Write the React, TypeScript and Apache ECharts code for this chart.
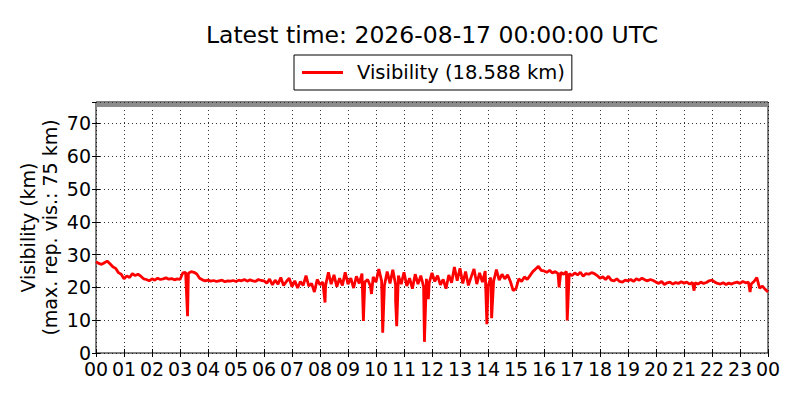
import React, { useEffect, useRef } from "react";
import * as echarts from "echarts";

// Visibility sampled every 6 minutes (0.1 h), from 00:00 to 24:00
const sampleStepHours = 0.1;
const visibility = [
  27.8, 27.3, 27.0, 27.5, 28.0, 27.2, 26.3, 25.8, 24.5, 24.0,
  22.6, 23.5, 23.0, 24.2, 23.6, 24.0, 23.4, 22.6, 22.4, 22.0,
  22.6, 22.2, 22.8, 22.4, 22.6, 22.9, 22.5, 22.7, 22.3, 22.6,
  22.4, 24.4, 24.6, 24.3, 24.8, 24.6, 24.1, 22.8, 22.3, 22.0,
  22.2, 21.9, 22.1, 21.8, 22.0, 22.2, 21.7, 22.0, 21.9, 22.1,
  21.8, 22.2, 22.0, 22.4, 21.9, 22.3, 22.0, 21.8, 22.4, 22.1,
  22.0, 21.3, 22.5, 20.8, 22.2, 21.0, 23.0, 20.6, 21.8, 22.8,
  20.2, 22.0, 19.8, 21.8, 20.6, 23.6, 20.4, 21.2, 18.6, 22.4,
  20.8, 21.6, 20.6, 24.6, 21.0, 23.8, 20.2, 22.8, 20.6, 24.6,
  21.0, 22.8, 19.8, 23.4, 21.2, 24.2, 21.6, 22.4, 20.4, 23.2,
  21.6, 25.6, 22.0, 20.6, 24.8, 21.2, 25.4, 20.8, 23.6, 21.0,
  24.6, 20.4, 22.8, 19.6, 24.0, 21.0, 23.6, 20.2, 22.6, 21.4,
  24.4, 21.8, 23.6, 20.8, 22.4, 19.6, 23.8, 21.4, 26.2, 22.0,
  25.8, 21.2, 24.8, 20.6, 23.2, 25.6, 21.0, 24.4, 21.6, 25.0,
  20.4, 23.0, 21.8, 25.4, 22.2, 24.0, 22.6, 23.8, 21.8, 19.0,
  19.6, 22.6, 21.8, 23.2, 22.4, 23.6, 24.8, 25.6, 26.4, 25.2,
  25.0, 24.6, 25.2, 24.4, 24.8, 24.2, 24.6, 24.0, 24.8, 24.2,
  23.6, 24.4, 23.8, 24.6, 23.4, 24.2, 24.0, 24.5, 24.2, 23.6,
  22.8, 23.2, 22.4, 23.4, 22.2, 22.0, 22.6, 21.8, 21.6, 22.2,
  22.0, 22.4, 21.8, 22.6, 22.2, 22.8, 22.3, 22.0, 22.4, 22.1,
  21.6, 21.2, 21.8, 20.9, 21.4, 21.6, 21.0, 21.5, 21.2, 21.7,
  21.3, 21.6, 21.0, 21.5, 21.4, 21.0, 21.6, 21.2, 21.5, 22.0,
  22.2, 21.6, 21.2, 21.0, 21.4, 20.9, 21.3, 21.0, 21.4, 21.6,
  21.2, 21.8, 21.4, 21.6, 21.0, 21.8, 23.0, 19.8, 20.4, 19.4,
  18.588,
];

// Short, sharp drops in visibility
const dipHours = [3.27, 8.18, 9.55, 9.84, 10.24, 10.7, 10.74, 11.73, 11.87, 13.96, 14.13, 16.54, 16.83, 21.36, 23.36];
const dipValues = [11.2, 15.4, 9.8, 18.0, 6.2, 16.0, 8.2, 3.4, 16.4, 8.8, 10.6, 20.0, 9.9, 19.0, 18.6];

const maxReportedVis = 75;
const yTop = 76.5;
const bandTop = 76.3;
const latestValue = "18.588";
const titleText = "Latest time: 2026-08-17 00:00:00 UTC";
const seriesName = `Visibility (${latestValue} km)`;
const yAxisName = "Visibility (km)\n(max. rep. vis.: 75 km)";

const FONT = "DejaVu Sans";

export default function App() {
  const ref = useRef<HTMLDivElement>(null);

  useEffect(() => {
    document.body.style.margin = "0";
    if (!ref.current) return;
    const chart = echarts.init(ref.current, null, { renderer: "svg" });

    const gridPoints = visibility.map((v, i) => [Math.round(i * sampleStepHours * 100) / 100, v]);
    const dips = dipHours.map((h, i) => [h, dipValues[i]]);
    const data = [...gridPoints, ...dips].sort((a, b) => a[0] - b[0]);

    const hourLabel = (v: number) => {
      const h = Math.round(v) % 24;
      return h < 10 ? "0" + h : String(h);
    };

    const gridLine = { show: true, lineStyle: { color: "#000", width: 0.8, type: [1, 3] as any } };
    const tick = { show: true, inside: true, length: 4, lineStyle: { color: "#000" } };

    chart.setOption({
      animation: false,
      backgroundColor: "#fff",
      textStyle: { fontFamily: FONT },
      grid: {
        left: 96,
        right: 32,
        top: 102,
        bottom: 47,
        containLabel: false,
        outerBoundsMode: "none",
        show: true,
        borderColor: "#000",
        borderWidth: 1,
        backgroundColor: "transparent",
      },
      graphic: [
        {
          type: "text",
          x: 432,
          y: 35,
          style: {
            text: titleText,
            fontFamily: FONT,
            fontSize: 23.5,
            fill: "#000",
            textAlign: "center",
            textVerticalAlign: "middle",
          },
        },
      ],
      legend: {
        left: 294,
        top: 55,
        padding: [6, 7, 6, 8],
        borderColor: "#000",
        borderWidth: 1,
        borderRadius: 0,
        backgroundColor: "#fff",
        itemWidth: 41,
        itemHeight: 3,
        textStyle: { fontFamily: FONT, fontSize: 19.5, color: "#000", padding: [0, 0, 0, 9], lineHeight: 23 },
        data: [{ name: seriesName, icon: "rect", itemStyle: { color: "#ff0000" } }],
      },
      xAxis: [
        {
          type: "value",
          min: 0,
          max: 24,
          interval: 1,
          axisLine: { show: false },
          axisTick: tick,
          axisLabel: {
            formatter: hourLabel,
            fontFamily: FONT,
            fontSize: 19,
            color: "#000",
            margin: 6,
            lineHeight: 19,
            showMinLabel: true,
            showMaxLabel: true,
            hideOverlap: false,
          },
          splitLine: gridLine,
        },
        {
          type: "value",
          position: "top",
          min: 0,
          max: 24,
          interval: 1,
          axisLine: { show: false },
          axisTick: tick,
          axisLabel: { show: false },
          splitLine: { show: false },
        },
      ],
      yAxis: [
        {
          type: "value",
          min: 0,
          max: yTop,
          interval: 10,
          axisLine: { show: false },
          axisTick: tick,
          axisLabel: {
            fontFamily: FONT,
            fontSize: 19,
            lineHeight: 11,
            color: "#000",
            margin: 5,
            showMaxLabel: false,
            formatter: (v: number) => (v % 10 === 0 ? String(v) : ""),
          },
          splitLine: gridLine,
          name: yAxisName,
          nameLocation: "middle",
          nameGap: 35,
          nameMoveOverlap: false,
          nameTextStyle: { fontFamily: FONT, fontSize: 19, color: "#000", lineHeight: 22 },
        },
        {
          type: "value",
          position: "right",
          min: 0,
          max: yTop,
          interval: 10,
          axisLine: { show: false },
          axisTick: tick,
          axisLabel: { show: false },
          splitLine: { show: false },
        },
      ],
      series: [
        {
          name: seriesName,
          type: "line",
          xAxisIndex: 0,
          yAxisIndex: 0,
          data,
          symbol: "none",
          showSymbol: false,
          lineStyle: { color: "#ff0000", width: 2.8 },
          itemStyle: { color: "#ff0000" },
          z: 3,
          markArea: {
            silent: true,
            itemStyle: { color: "#8c8c8c", opacity: 1 },
            data: [[{ yAxis: maxReportedVis }, { yAxis: bandTop }]],
          },
        },
      ],
    });

    return () => chart.dispose();
  }, []);

  return <div ref={ref} style={{ width: 800, height: 400 }} />;
}
